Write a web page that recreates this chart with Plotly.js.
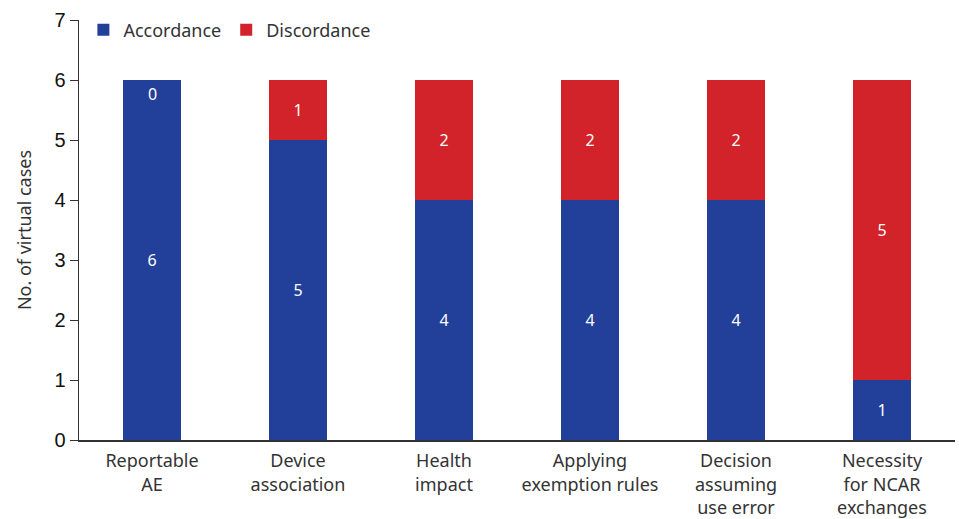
<!DOCTYPE html>
<html>
<head>
<meta charset="utf-8">
<script src="https://cdn.plot.ly/plotly-3.0.1.min.js"></script>
<style>html,body{margin:0;padding:0;background:#fff}#chart{width:959px;height:519px}</style>
</head>
<body>
<div id="chart"></div>
<script>
const categories = ["Reportable<br>AE", "Device<br>association", "Health<br>impact", "Applying<br>exemption rules", "Decision<br>assuming<br>use error", "Necessity<br>for NCAR<br>exchanges"];
const accordance = [6, 5, 4, 4, 4, 1];
const discordance = [0, 1, 2, 2, 2, 5];
const yTicks = [0, 1, 2, 3, 4, 5, 6, 7];

const blue = "#22409a";
const red = "#d2232a";
const labelFont = {family: "Noto Sans, Open Sans, sans-serif", size: 16, color: "#ffffff"};

const traces = [
  {type: "bar", name: "Accordance", x: categories, y: accordance, marker: {color: blue},
   text: accordance.map(String), textposition: "inside", insidetextanchor: "middle",
   textfont: labelFont, hoverinfo: "x+y"},
  {type: "bar", name: "Discordance", x: categories, y: discordance, marker: {color: red},
   text: discordance.map(v => v > 0 ? String(v) : ""), textposition: "inside", insidetextanchor: "middle",
   textfont: labelFont, hoverinfo: "x+y"}
];

// zero-value segments get their label just inside the top of the stack
const annotations = [];
discordance.forEach((v, i) => {
  if (v === 0) {
    annotations.push({x: categories[i], y: accordance[i] + v, text: String(v), showarrow: false,
      yanchor: "top", yshift: -1, font: labelFont});
  }
});

const layout = {
  width: 959, height: 519,
  margin: {l: 79, r: 4, t: 20, b: 79},
  barmode: "stack",
  bargap: 0.596,
  paper_bgcolor: "#ffffff", plot_bgcolor: "#ffffff",
  showlegend: true,
  legend: {orientation: "h", x: 0.005, xanchor: "left", y: 0.976, yanchor: "middle",
    font: {family: "Noto Sans, Open Sans, sans-serif", size: 18, color: "#333333"},
    bgcolor: "rgba(0,0,0,0)", traceorder: "normal"},
  xaxis: {showline: true, linecolor: "#333333", linewidth: 1.5, ticks: "", showgrid: false,
    ticklabelstandoff: 4,
    tickfont: {family: "Noto Sans, Open Sans, sans-serif", size: 18, color: "#333333"}, fixedrange: true},
  yaxis: {range: [0, 7], tickvals: yTicks, ticktext: yTicks.map(String), showline: true,
    linecolor: "#333333", linewidth: 1.5, ticks: "outside", ticklen: 8, tickcolor: "#333333",
    showgrid: false, zeroline: false,
    tickfont: {family: "Liberation Sans, Arial, sans-serif", size: 20, color: "#111111"},
    title: {text: "No. of virtual cases", standoff: 18,
      font: {family: "Noto Sans, Open Sans, sans-serif", size: 18, color: "#333333"}}},
  annotations: annotations
};

Plotly.newPlot("chart", traces, layout, {displayModeBar: false, staticPlot: true});
</script>
</body>
</html>
